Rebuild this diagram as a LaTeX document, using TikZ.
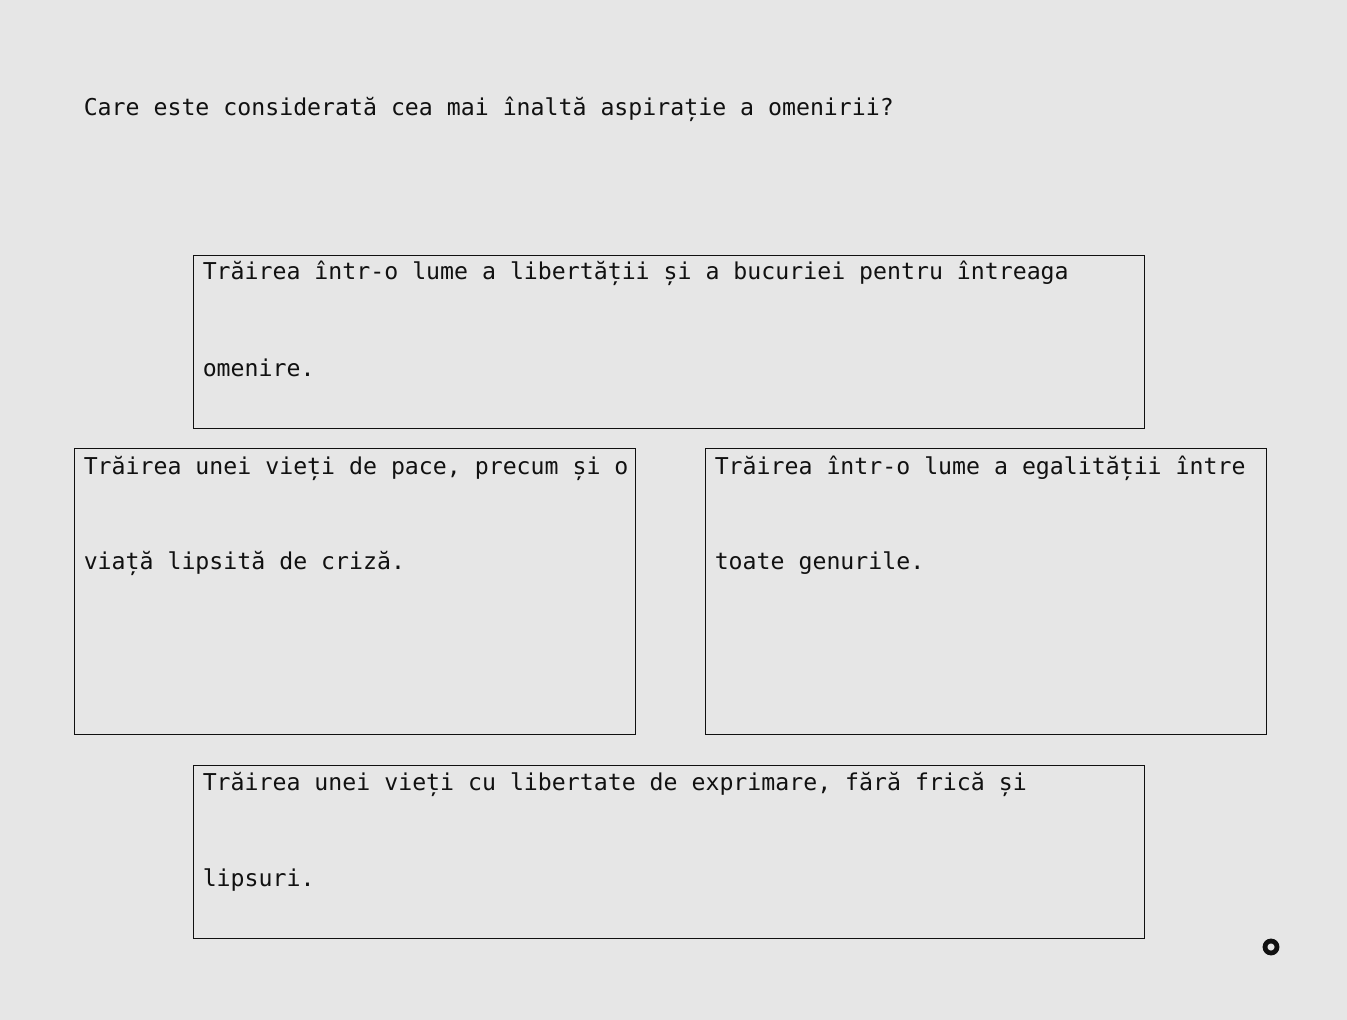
\documentclass[tikz,border=0pt]{standalone}
\usepackage{fontspec}
\setmonofont{DejaVu Sans Mono}
\definecolor{bg}{HTML}{E6E6E6}
\definecolor{ink}{HTML}{111111}
\begin{document}
\begin{tikzpicture}[x=0.75pt,y=-0.75pt,
  box/.style={draw=ink,line width=0.75pt},
  txt/.style={anchor=base west,inner sep=0pt,font=\ttfamily\fontsize{17.4pt}{20pt}\selectfont,text=ink}]
\fill[bg] (0,0) rectangle (1347,1020);
\useasboundingbox (0,0) rectangle (1347,1020);
\node[txt] (q) at (83.5,116) {Care este considerată cea mai înaltă aspirație a omenirii?};
\draw[box] (193.5,255.5) rectangle (1144,428);
\node[txt] (a1) at (202.5,280) {Trăirea într-o lume a libertății și a bucuriei pentru întreaga};
\node[txt] (a2) at (202.5,376) {omenire.};
\draw[box] (74.5,448.5) rectangle (635,734);
\node[txt] (b1) at (83.5,474) {Trăirea unei vieți de pace, precum și o};
\node[txt] (b2) at (83.5,569) {viață lipsită de criză.};
\draw[box] (705.5,448.5) rectangle (1266,734);
\node[txt] (c1) at (714.5,474) {Trăirea într-o lume a egalității între};
\node[txt] (c2) at (714.5,569) {toate genurile.};
\draw[box] (193.5,765.5) rectangle (1144,938);
\node[txt] (d1) at (202.5,790) {Trăirea unei vieți cu libertate de exprimare, fără frică și};
\node[txt] (d2) at (202.5,886) {lipsuri.};
\draw[ink,line width=3.6pt] (1271,947) circle (6);
\end{tikzpicture}
\end{document}
